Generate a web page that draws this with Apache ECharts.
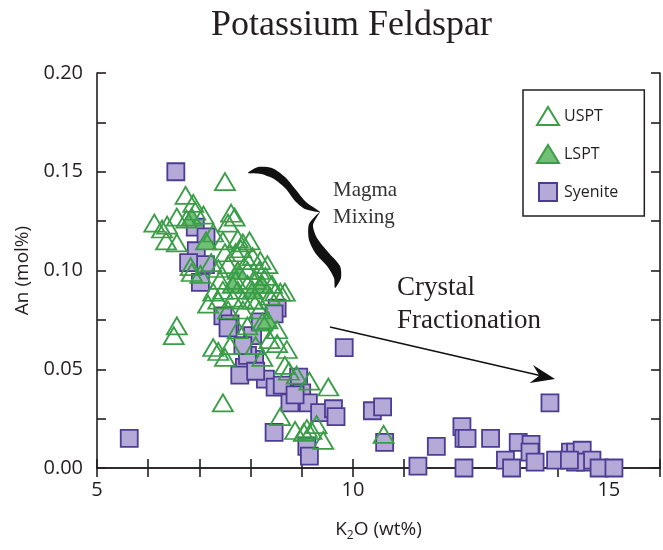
<!DOCTYPE html>
<html>
<head>
<meta charset="utf-8">
<script src="https://cdn.jsdelivr.net/npm/echarts@6/dist/echarts.min.js"></script>
<style>
html,body{margin:0;padding:0;background:#fff;}
#chart{width:663px;height:550px;}
</style>
</head>
<body>
<div id="chart"></div>
<script>
// ---------- data (K2O wt%, An mol fraction) ----------
const xTickLabels = ['5', '10', '15'];
const yTickLabels = ['0.00', '0.05', '0.10', '0.15', '0.20'];

const usptData = [
  [7.50,0.145],[6.73,0.138],[6.88,0.134],[6.92,0.130],[6.12,0.124],[6.37,0.123],[6.27,0.121],
  [6.35,0.115],[6.56,0.127],[6.56,0.114],[6.75,0.126],[7.62,0.129],[7.69,0.127],[7.56,0.124],
  [6.83,0.102],[6.85,0.099],[7.02,0.098],[7.75,0.116],[7.50,0.109],[7.71,0.109],[7.23,0.104],
  [7.85,0.114],[7.81,0.111],[8.04,0.107],[8.19,0.105],[8.33,0.103],[8.48,0.089],[8.58,0.089],
  [8.38,0.087],[8.67,0.089],[8.17,0.100],[8.29,0.097],[7.94,0.093],[7.71,0.095],[7.40,0.095],
  [7.27,0.089],[7.17,0.083],[7.37,0.101],[7.65,0.086],[7.85,0.080],[8.04,0.085],[8.23,0.074],
  [8.52,0.063],[8.67,0.052],[9.15,0.044],[9.52,0.041],[6.56,0.072],[6.50,0.067],[7.27,0.061],
  [7.37,0.059],[7.50,0.056],[7.46,0.033],[8.58,0.026],[8.87,0.019],[9.19,0.019],[9.42,0.014],
  [9.10,0.020],[9.29,0.022],[9.04,0.018],[10.60,0.017],[8.10,0.062],[8.37,0.065],[8.75,0.049],
  [8.90,0.047],[8.23,0.056],[7.94,0.072],[7.75,0.070],[7.60,0.062],[7.08,0.128],[7.27,0.119],
  [7.46,0.115],[7.94,0.100],[8.10,0.095],[8.42,0.093],[7.56,0.080],[7.75,0.090],[8.17,0.080],
  [7.98,0.115],[7.56,0.103],[7.46,0.090],[7.85,0.085],[8.13,0.085],[8.52,0.070],[7.37,0.085],
  [8.71,0.060],[7.94,0.105]
];

const lsptData = [
  [7.13,0.115],[6.85,0.127],[7.75,0.100],[8.04,0.090],[7.65,0.093],[8.33,0.075],[8.23,0.093]
];

const syeniteData = [
  [6.54,0.150],[5.63,0.015],[6.92,0.122],[7.13,0.117],[6.94,0.110],[7.12,0.103],[6.79,0.104],
  [7.02,0.094],[7.46,0.077],[7.60,0.073],[8.52,0.081],[8.46,0.078],[7.56,0.071],[8.04,0.067],
  [8.08,0.055],[7.88,0.051],[7.79,0.047],[7.94,0.057],[8.29,0.045],[8.48,0.041],[8.94,0.046],
  [9.00,0.038],[8.77,0.033],[9.13,0.033],[9.35,0.028],[9.62,0.030],[9.67,0.026],[8.46,0.018],
  [9.10,0.011],[9.15,0.006],[9.83,0.061],[10.38,0.029],[10.58,0.031],[10.62,0.013],[11.63,0.011],
  [11.27,0.001],[12.13,0.021],[12.17,0.015],[12.23,0.015],[12.69,0.015],[12.17,0.000],[12.98,0.004],
  [13.10,0.000],[13.23,0.013],[13.48,0.012],[13.46,0.008],[13.56,0.003],[13.85,0.033],[13.96,0.004],
  [14.25,0.008],[14.35,0.008],[14.48,0.009],[14.54,0.003],[14.67,0.004],[14.81,0.000],[15.10,0.000],
  [14.35,0.003],[14.23,0.004],[8.19,0.074],[7.85,0.062],[8.10,0.049],[8.62,0.042],[8.87,0.037]
];

// ---------- styling ----------
const INK = '#231f20';
const GREEN = '#3a9d47';
const GREEN_FILL = '#72bf76';
const PURPLE = '#4d3c93';
const LAVENDER = '#b5a9d8';
const SANS = '"Open Sans", "Noto Sans", sans-serif';
const SERIF = '"Liberation Serif", "DejaVu Serif", serif';

const chart = echarts.init(document.getElementById('chart'), null, {renderer: 'canvas'});

function yLab(v) {
  const s = v.toFixed(2);
  return yTickLabels.indexOf(s) >= 0 ? s : '';
}
function xLab(v) {
  const s = String(Math.round(v));
  return (Math.abs(v - Math.round(v)) < 1e-6 && xTickLabels.indexOf(s) >= 0) ? s : '';
}

const axisLineStyle = {show: true, lineStyle: {color: INK, width: 1.6}};
const tickStyle = {show: true, inside: true, length: 9, lineStyle: {color: INK, width: 1.6}};

const option = {
  animation: false,
  backgroundColor: '#fff',
  title: {
    text: 'Potassium Feldspar',
    left: 206, top: 3,
    textStyle: {fontFamily: SERIF, fontSize: 36, fontWeight: 'normal', color: INK}
  },
  legend: {
    orient: 'vertical',
    left: 523, top: 90,
    padding: [16, 26, 14, 13],
    itemWidth: 22, itemHeight: 18, itemGap: 18,
    borderColor: INK, borderWidth: 1.5,
    backgroundColor: '#fff',
    textStyle: {fontFamily: SANS, fontSize: 16, color: INK},
    data: [
      {name: 'USPT', icon: 'triangle'},
      {name: 'LSPT', icon: 'triangle'},
      {name: 'Syenite', icon: 'path://M0,0H10V10H0Z'}
    ]
  },
  grid: {left: 97, top: 73, width: 572, height: 395, containLabel: false},
  xAxis: [{
    type: 'value', min: 5, max: 16, interval: 1,
    name: 'K{s|2}O (wt%)', nameLocation: 'middle', nameGap: 50,
    nameTextStyle: {fontFamily: SANS, fontSize: 19, color: INK,
      rich: {s: {fontFamily: SANS, fontSize: 12, color: INK, padding: [12, 0, 0, 0]}}},
    axisLine: axisLineStyle, axisTick: tickStyle,
    axisLabel: {formatter: xLab, fontFamily: SANS, fontSize: 20, color: INK, margin: 12},
    splitLine: {show: false}
  }, {
    type: 'value', min: 5, max: 16, interval: 1, position: 'top',
    axisLine: axisLineStyle, axisTick: tickStyle,
    axisLabel: {show: false}, splitLine: {show: false}
  }],
  yAxis: [{
    type: 'value', min: 0, max: 0.2, interval: 0.025,
    name: 'An (mol%)', nameLocation: 'middle', nameGap: 64,
    nameTextStyle: {fontFamily: SANS, fontSize: 19, color: INK},
    axisLine: axisLineStyle, axisTick: tickStyle,
    axisLabel: {formatter: yLab, fontFamily: SANS, fontSize: 20, color: INK, margin: 14},
    splitLine: {show: false}
  }, {
    type: 'value', min: 0, max: 0.2, interval: 0.025, position: 'right',
    axisLine: axisLineStyle, axisTick: tickStyle,
    axisLabel: {show: false}, splitLine: {show: false}
  }],
  series: [
    {
      name: 'Syenite', type: 'scatter', data: syeniteData,
      symbol: 'rect', symbolSize: 17, z: 2,
      itemStyle: {color: LAVENDER, borderColor: PURPLE, borderWidth: 1.8, opacity: 1},
      emphasis: {disabled: true}
    },
    {
      name: 'LSPT', type: 'scatter', data: lsptData,
      symbol: 'triangle', symbolSize: [20, 17], z: 3,
      itemStyle: {color: GREEN_FILL, borderColor: GREEN, borderWidth: 1.8, opacity: 1},
      emphasis: {disabled: true}
    },
    {
      name: 'USPT', type: 'scatter', data: usptData,
      symbol: 'triangle', symbolSize: [20, 17], z: 4,
      itemStyle: {color: 'rgba(255,255,255,0)', borderColor: GREEN, borderWidth: 1.8, opacity: 1},
      emphasis: {disabled: true}
    }
  ],
  graphic: [
    {
      type: 'polygon', z: 10,
      shape: {smooth: 0.25, points: [[248,173],[258,167],[272,168],[285,177],[296,190],[306,202],[320,212],[305,209],[295,201],[286,189],[274,179],[261,174]]},
      style: {fill: '#111'}
    },
    {
      type: 'polygon', z: 10,
      shape: {smooth: 0.25, points: [[320,212],[313,225],[317,238],[328,252],[340,266],[341,278],[335,288],[334,278],[327,266],[316,254],[309,240],[309,224]]},
      style: {fill: '#111'}
    },
    {
      type: 'text', left: 333, top: 177, z: 10,
      style: {text: 'Magma\nMixing', font: '21px ' + SERIF, fill: '#333', lineHeight: 27}
    },
    {
      type: 'text', left: 397, top: 271, z: 10,
      style: {text: 'Crystal\nFractionation', font: '27px ' + SERIF, fill: INK, lineHeight: 33}
    },
    {
      type: 'line', z: 10,
      shape: {x1: 330, y1: 327, x2: 541, y2: 375.8},
      style: {stroke: '#111', lineWidth: 1.6}
    },
    {
      type: 'polygon', z: 10,
      shape: {points: [[555, 379], [533, 365], [539.4, 375.4], [529.6, 383]]},
      style: {fill: '#111'}
    }
  ]
};
chart.setOption(option);
</script>
</body>
</html>
